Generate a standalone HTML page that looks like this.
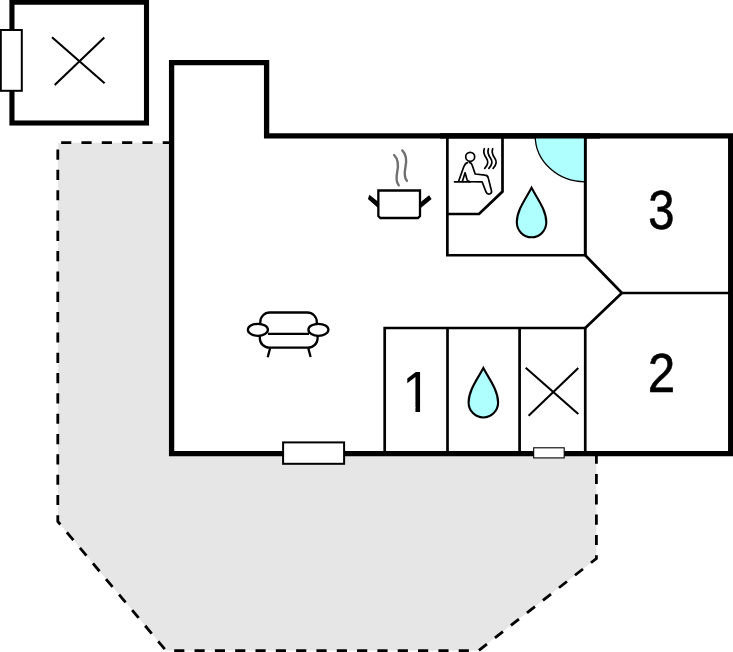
<!DOCTYPE html>
<html>
<head>
<meta charset="utf-8">
<title>Floor plan</title>
<style>
html,body{margin:0;padding:0;background:#fff;}
body{width:733px;height:652px;overflow:hidden;}
svg{display:block;}
text{font-family:"Liberation Sans",Arial,sans-serif;fill:#000;}
</style>
</head>
<body>
<svg width="733" height="652" viewBox="0 0 733 652">
<rect x="0" y="0" width="733" height="652" fill="#fff"/>

<!-- terrace -->
<polygon points="171.6,142.7 57.8,142.7 57.8,521.5 166,650.6 478.6,650.6 596.4,558.5 596.4,453" fill="#e6e6e6"/>
<polyline points="172.9,142.7 57.8,142.7 57.8,521.5 166,650.6 478.6,650.6 596.4,558.5 596.4,452.4" fill="none" stroke="#000" stroke-width="2.8" stroke-dasharray="10.16 10.16" stroke-linejoin="miter"/>

<!-- main building -->
<polygon points="171.6,62.6 266.6,62.6 266.6,135.85 730.7,135.85 730.7,453.7 171.6,453.7" fill="#fff" stroke="#000" stroke-width="5.3" stroke-linejoin="miter"/>

<!-- outbuilding -->
<rect x="11.95" y="2.2" width="134.55" height="120.8" fill="#fff" stroke="#000" stroke-width="5.1"/>
<rect x="0.8" y="30" width="21" height="60.8" fill="#fff" stroke="#000" stroke-width="2"/>
<g stroke="#000" stroke-width="2.1" fill="none">
<line x1="52" y1="37.2" x2="104.6" y2="83.3"/>
<line x1="54.7" y1="85" x2="104.3" y2="37.6"/>
</g>

<!-- inner walls -->
<g stroke="#000" stroke-width="2.7" fill="none" stroke-linejoin="miter">
<polyline points="447.35,136 447.35,255.25 585.25,255.25"/>
<line x1="585.25" y1="136" x2="585.25" y2="255.25"/>
<polyline points="447.35,214 479,214 502.5,191.6 502.5,136"/>
<polyline points="585.25,255.25 621.9,293 585.25,327.9"/>
<line x1="621.9" y1="293" x2="730" y2="293"/>
<polyline points="384.7,453 384.7,328 585.25,328 585.25,453"/>
<line x1="447.5" y1="328" x2="447.5" y2="453"/>
<line x1="519.6" y1="328" x2="519.6" y2="453"/>
</g>

<!-- shower -->
<path d="M585.2 135.8 L535.2 135.8 A50 46 0 0 0 585.2 181.8 Z" fill="#b0ffff" stroke="#000" stroke-width="1.3"/>
<line x1="585.25" y1="136" x2="585.25" y2="255.25" stroke="#000" stroke-width="2.7"/>
<line x1="440" y1="135.85" x2="600" y2="135.85" stroke="#000" stroke-width="5.3"/>

<!-- drops -->
<path d="M531.55 187.8 C525.8 198.8 516.8 210 516.8 222.3 A14.75 15 0 0 0 546.3 222.3 C546.3 210 537.3 198.8 531.55 187.8 Z" fill="#b0ffff" stroke="#000" stroke-width="2.1" stroke-linejoin="miter"/>
<path d="M531.55 187.8 C525.8 198.8 516.8 210 516.8 222.3 A14.75 15 0 0 0 546.3 222.3 C546.3 210 537.3 198.8 531.55 187.8 Z" transform="translate(-48.2 180.2)" fill="#b0ffff" stroke="#000" stroke-width="2.1" stroke-linejoin="miter"/>

<!-- X in small room -->
<g stroke="#000" stroke-width="2.1" fill="none">
<line x1="525.7" y1="367.8" x2="578.3" y2="414"/>
<line x1="528.6" y1="415.8" x2="578.3" y2="368"/>
</g>

<!-- doors -->
<rect x="283.1" y="442.4" width="61" height="21.4" fill="#fff" stroke="#000" stroke-width="2"/>
<rect x="533.7" y="447.8" width="30.5" height="10.1" fill="#fff" stroke="#000" stroke-width="1.1"/>

<!-- numbers -->
<text transform="translate(661.4 229.1) scale(0.85 1)" x="0" y="0" font-size="55.4" text-anchor="middle" stroke="#000" stroke-width="0.6">3</text>
<text transform="translate(661.5 392.4) scale(0.89 1)" x="0" y="0" font-size="55.4" text-anchor="middle" stroke="#000" stroke-width="0.6">2</text>
<clipPath id="c1"><polygon points="395,360 445,360 445,407 420.06,407 420.06,416 415.44,416 415.44,407 395,407"/></clipPath>
<g clip-path="url(#c1)"><text transform="translate(416.9 411.7) scale(0.92 1)" x="0" y="0" font-size="57" text-anchor="middle">1</text></g>

<!-- pot -->
<polygon points="369.4,194.8 367.9,199.05 377.26,207.3 380.3,210 380.3,203.5 377.26,201.1" fill="#000"/>
<polygon points="429.1,195.35 431.65,199.05 421.05,207.8 418,210.3 418,204.2 421.05,201.8" fill="#000"/>
<path d="M378.35 190.5 H420 V216 L418 218 H380.35 L378.35 216 Z" stroke="#000" stroke-width="2.3" fill="#fff"/>
<g fill="none" stroke="#707070" stroke-width="2.4" stroke-linecap="round">
<path d="M394.1 155 C399 160 398.5 166 397.2 172 C396 178 396 182 398.7 185.3"/>
<path d="M402.3 150.4 C407.2 155.4 406.7 161.4 405.4 167.4 C404.2 173.4 404.2 177.4 406.9 180.8"/>
</g>

<!-- sofa -->
<g fill="none" stroke="#000" stroke-width="2.3">
<path d="M260.3 325 V322 A9.5 9.5 0 0 1 269.8 312.5 H307.3 A9.5 9.5 0 0 1 316.8 322 V325"/>
<path d="M259.8 335 V338.2 A9.5 9.5 0 0 0 269.3 347.7 H308.1 A9.5 9.5 0 0 0 317.6 338.2 V335"/>
<line x1="268" y1="333.8" x2="309" y2="333.8"/>
<ellipse cx="257.9" cy="329.8" rx="10" ry="6" fill="#fff"/>
<ellipse cx="318.4" cy="329.8" rx="10" ry="6" fill="#fff"/>
<line x1="270.1" y1="348.2" x2="267.7" y2="357.2"/>
<line x1="308.3" y1="348.2" x2="310.6" y2="357"/>
</g>

<!-- sauna icon -->
<g fill="none" stroke="#000" stroke-width="1.7" stroke-linecap="round" stroke-linejoin="round">
<circle cx="470.2" cy="156.8" r="4.5"/>
<line x1="454.5" y1="181.8" x2="470.2" y2="181.8"/>
<path d="M467.5 162.6 C465.5 163 464.5 165 463.5 167.5 L458.6 181.3"/>
<path d="M462.4 181.3 L465.1 172.7 L467 179.6 Q467.8 181.6 470.2 181.7 L482.1 181.8 L485.9 191.6 Q487 194.6 489.5 194 Q492 193.4 491.5 191 L488.4 178.4 Q487.8 175.4 485 175.2 L475.2 174 L472.3 165.5 Q471.6 163 469.5 162.4"/>
<path d="M484.3 148.7 C482.9 152.3 484.3 155.3 486.4 158.2 C488.6 161.2 487.9 165 484.7 168.3"/>
<path d="M488.45 148.7 C487.05 152.3 488.45 155.3 490.55 158.2 C492.75 161.2 492.05 165 488.85 168.3"/>
<path d="M492.7 148.7 C491.3 152.3 492.7 155.3 494.8 158.2 C497 161.2 496.3 165 493.1 168.3"/>
</g>
</svg>
</body>
</html>
